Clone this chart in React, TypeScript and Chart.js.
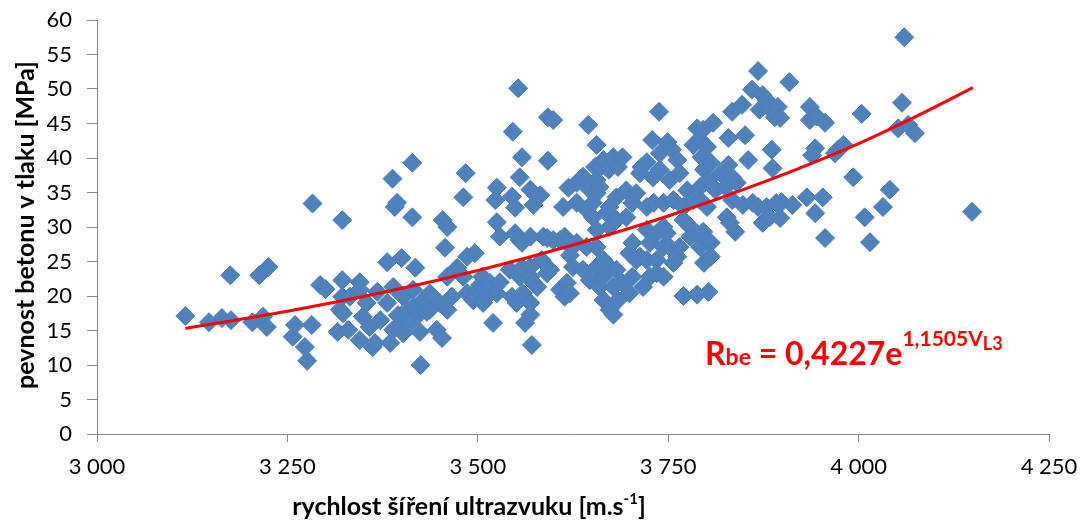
import { useEffect, useRef } from 'react';
import { Chart, registerables } from 'chart.js';

Chart.register(...registerables);

// measured samples: [ultrasound speed m/s, compressive strength MPa]
const samples: number[][] = [
  [3116, 17.1], [3147, 16.2], [3164, 16.8], [3176, 16.5], [3175, 23.0], [3213, 23.0], [3225, 24.2],
  [3204, 16.2], [3218, 17.0], [3223, 15.5], [3257, 14.1], [3260, 15.8], [3273, 12.6], [3276, 10.6],
  [3282, 15.8], [3283, 33.4], [3293, 21.6], [3300, 21.0], [3316, 14.8], [3319, 18.0], [3322, 31.0],
  [3322, 22.3], [3322, 19.9], [3323, 17.5], [3330, 15.1], [3332, 19.9], [3345, 22.0], [3345, 20.9],
  [3345, 13.6], [3349, 17.0], [3354, 19.0], [3358, 15.5], [3362, 12.6], [3365, 13.2], [3368, 20.6],
  [3372, 16.5], [3381, 19.0], [3381, 24.9], [3385, 13.2], [3388, 37.0], [3389, 21.3], [3389, 15.1],
  [3391, 32.9], [3394, 33.5], [3395, 17.2], [3398, 15.5], [3400, 25.5], [3402, 19.9], [3402, 14.6],
  [3407, 18.0], [3411, 16.2], [3414, 39.3], [3414, 31.4], [3415, 20.9], [3415, 18.4], [3418, 24.1],
  [3424, 17.5], [3424, 14.8], [3425, 10.0], [3428, 19.4], [3433, 17.7], [3437, 20.4], [3437, 18.0],
  [3446, 15.1], [3450, 19.0], [3453, 13.9], [3454, 31.0], [3460, 30.0], [3457, 27.0], [3460, 22.8],
  [3460, 18.0], [3466, 19.9], [3473, 24.1], [3481, 22.8], [3481, 34.3], [3484, 37.8], [3486, 25.7],
  [3486, 20.4], [3494, 19.4], [3496, 26.2], [3499, 20.9], [3503, 21.6], [3506, 22.8], [3507, 19.0],
  [3512, 19.9], [3516, 21.9], [3520, 16.1], [3523, 33.9], [3525, 35.7], [3525, 30.7], [3525, 20.4],
  [3529, 28.6], [3529, 22.0], [3542, 23.8], [3545, 34.4], [3545, 19.9], [3546, 43.8], [3549, 32.8],
  [3549, 29.1], [3551, 19.0], [3553, 50.1], [3555, 37.2], [3555, 22.8], [3555, 28.1], [3558, 40.1],
  [3558, 27.7], [3558, 24.1], [3559, 20.4], [3562, 16.1], [3569, 35.4], [3569, 28.6], [3569, 24.2],
  [3569, 22.8], [3569, 19.0], [3569, 17.3], [3571, 12.9], [3573, 33.2], [3573, 21.9], [3578, 21.3],
  [3582, 34.6], [3584, 25.2], [3586, 28.6], [3591, 28.4], [3591, 23.3], [3592, 45.9], [3592, 39.6],
  [3595, 23.8], [3599, 45.5], [3599, 28.1], [3608, 28.1], [3608, 20.9], [3612, 32.9], [3614, 28.6],
  [3614, 19.9], [3617, 27.7], [3617, 21.9], [3619, 35.7], [3621, 25.9], [3621, 20.4], [3625, 24.2],
  [3630, 36.4], [3630, 33.5], [3630, 27.7], [3638, 37.3], [3638, 23.8], [3643, 32.5], [3643, 27.1],
  [3645, 44.8], [3647, 35.4], [3647, 22.3], [3651, 31.4], [3651, 33.5], [3654, 38.7], [3656, 41.9],
  [3656, 36.8], [3656, 34.9], [3656, 29.6], [3656, 27.1], [3656, 24.2], [3660, 35.8], [3660, 21.3],
  [3661, 38.7], [3665, 39.7], [3665, 25.2], [3665, 22.8], [3665, 19.4], [3669, 32.0], [3672, 38.3],
  [3673, 32.9], [3673, 30.0], [3673, 24.2], [3673, 18.0], [3678, 40.1], [3678, 21.3], [3678, 17.3],
  [3682, 34.3], [3682, 31.0], [3682, 23.8], [3684, 38.7], [3684, 19.4], [3690, 40.1], [3690, 21.9],
  [3695, 35.3], [3695, 31.4], [3699, 26.2], [3699, 20.4], [3703, 33.5], [3703, 27.7], [3703, 22.8],
  [3708, 34.9], [3708, 25.2], [3713, 37.8], [3713, 25.7], [3715, 38.7], [3717, 21.3], [3722, 39.4],
  [3722, 32.9], [3722, 29.6], [3722, 25.2], [3726, 27.7], [3726, 22.8], [3729, 42.6], [3730, 37.2],
  [3731, 33.5], [3735, 29.1], [3735, 25.2], [3735, 23.3], [3738, 46.7], [3739, 40.7], [3739, 38.3],
  [3744, 33.5], [3744, 30.0], [3744, 27.1], [3744, 22.8], [3748, 29.1], [3749, 42.3], [3752, 36.8],
  [3752, 27.1], [3755, 41.2], [3757, 33.9], [3757, 24.8], [3762, 39.7], [3762, 25.7], [3765, 37.8],
  [3765, 27.1], [3770, 32.9], [3770, 31.0], [3770, 20.0], [3775, 35.3], [3779, 30.0], [3779, 28.6],
  [3783, 41.9], [3783, 33.9], [3788, 44.3], [3788, 20.2], [3792, 42.6], [3792, 35.8], [3792, 33.9],
  [3792, 28.6], [3792, 27.1], [3794, 40.1], [3796, 44.1], [3796, 29.3], [3797, 38.3], [3797, 24.8],
  [3801, 41.6], [3801, 32.9], [3801, 28.1], [3803, 36.8], [3803, 20.6], [3806, 39.3], [3806, 27.7],
  [3806, 25.7], [3809, 45.1], [3809, 35.8], [3812, 35.4], [3819, 37.8], [3825, 35.8], [3827, 31.4],
  [3829, 42.9], [3829, 39.0], [3831, 30.6], [3834, 46.7], [3834, 37.2], [3834, 33.9], [3838, 29.3],
  [3840, 36.4], [3847, 47.7], [3848, 33.2], [3851, 43.3], [3855, 39.7], [3860, 49.9], [3861, 33.5],
  [3868, 52.6], [3868, 32.9], [3870, 47.0], [3874, 49.1], [3874, 30.6], [3879, 48.4], [3879, 32.9],
  [3883, 47.2], [3883, 31.4], [3886, 41.2], [3887, 38.5], [3890, 45.9], [3892, 33.5], [3894, 47.4],
  [3897, 45.8], [3897, 31.3], [3899, 33.6], [3909, 51.0], [3913, 33.2], [3932, 34.3], [3936, 47.4],
  [3936, 45.5], [3939, 40.4], [3943, 41.4], [3943, 32.0], [3945, 46.0], [3953, 34.3], [3956, 45.1],
  [3956, 28.4], [3969, 40.7], [3973, 41.2], [3980, 41.9], [3993, 37.2], [4004, 46.4], [4008, 31.4],
  [4015, 27.8], [4032, 32.9], [4041, 35.4], [4052, 44.3], [4057, 48.0], [4060, 57.5], [4065, 44.8],
  [4074, 43.6], [4149, 32.2],
];

// exponential trendline
const trendSpeed = [3116, 3250, 3375, 3500, 3625, 3750, 3875, 4000, 4075, 4150];
const trendStrength = [15.3, 17.8, 20.5, 23.7, 27.4, 31.6, 36.5, 42.1, 46.0, 50.2];

const xMin = 3000;
const xMax = 4250;
const xStep = 250;
const yMin = 0;
const yMax = 60;
const yStep = 5;

const yTitleText = 'pevnost betonu v tlaku [MPa]';
const xTitleText = 'rychlost šíření ultrazvuku [m.s';
const xTitleSup = '-1';
const xTitleEnd = ']';

const eqMain = 'R';
const eqSub = 'be';
const eqMid = ' = 0,4227e';
const eqSup = '1,1505V';
const eqSupSub = 'L3';

const FONT = 'Lato, "Open Sans", sans-serif';

const textPlugin = {
  id: 'customText',
  afterDraw(chart: any) {
    const ctx = chart.ctx as CanvasRenderingContext2D;
    ctx.save();
    ctx.fillStyle = '#000000';
    // y title
    ctx.save();
    ctx.translate(34, 225);
    ctx.rotate(-Math.PI / 2);
    ctx.font = `bold 25px ${FONT}`;
    ctx.textAlign = 'center';
    ctx.textBaseline = 'alphabetic';
    ctx.fillText(yTitleText, 0, 0);
    ctx.restore();

    // x title with superscript
    ctx.textBaseline = 'alphabetic';
    ctx.textAlign = 'left';
    const mainFont = `bold 25px ${FONT}`;
    const supFont = `bold 15px ${FONT}`;
    ctx.font = mainFont;
    const w1 = ctx.measureText(xTitleText).width;
    const w3 = ctx.measureText(xTitleEnd).width;
    ctx.font = supFont;
    const w2 = ctx.measureText(xTitleSup).width;
    const total = w1 + w2 + w3;
    let x = 469 - total / 2;
    const by = 515;
    ctx.font = mainFont;
    ctx.fillText(xTitleText, x, by);
    x += w1;
    ctx.font = supFont;
    ctx.fillText(xTitleSup, x, by - 11);
    x += w2;
    ctx.font = mainFont;
    ctx.fillText(xTitleEnd, x, by);

    // equation
    ctx.fillStyle = '#FF0000';
    let ex = 705;
    const eb = 365;
    ctx.font = `bold 32px ${FONT}`;
    ctx.fillText(eqMain, ex, eb);
    ex += ctx.measureText(eqMain).width;
    ctx.font = `bold 23px ${FONT}`;
    ctx.fillText(eqSub, ex, eb);
    ex += ctx.measureText(eqSub).width;
    ctx.font = `bold 32px ${FONT}`;
    ctx.fillText(eqMid, ex, eb);
    ex += ctx.measureText(eqMid).width;
    ctx.font = `bold 21px ${FONT}`;
    ctx.fillText(eqSup, ex, eb - 19);
    ex += ctx.measureText(eqSup).width;
    ctx.font = `bold 18px ${FONT}`;
    ctx.fillText(eqSupSub, ex, eb - 15);
    ctx.restore();
  },
};

export default function App() {
  const canvasRef = useRef<HTMLCanvasElement | null>(null);

  useEffect(() => {
    document.body.style.margin = '0';
    document.body.style.overflow = 'hidden';
    const canvas = canvasRef.current;
    if (!canvas) return;

    const scatterData = samples.map((p) => ({ x: p[0], y: p[1] }));
    const trendData = trendSpeed.map((v, i) => ({ x: v, y: trendStrength[i] }));

    const chart = new Chart(canvas, {
      type: 'scatter',
      data: {
        datasets: [
          {
            label: 'trend',
            data: trendData,
            showLine: true,
            borderColor: '#FF0000',
            backgroundColor: '#FF0000',
            borderWidth: 3,
            pointRadius: 0,
            cubicInterpolationMode: 'monotone',
            fill: false,
          } as any,
          {
            label: 'samples',
            data: scatterData,
            pointStyle: 'rectRot',
            pointRadius: 9.5,
            backgroundColor: '#4F81BD',
            borderColor: '#4A7EBB',
            borderWidth: 1,
            showLine: false,
          },
        ],
      },
      options: {
        responsive: false,
        animation: false,
        devicePixelRatio: 1,
        layout: { padding: { left: 0, right: 33, top: 20, bottom: 0 } },
        plugins: {
          legend: { display: false },
          tooltip: { enabled: false },
          title: { display: false },
        },
        scales: {
          x: {
            type: 'linear',
            min: xMin,
            max: xMax,
            afterFit: (s: any) => {
              s.height = 90;
              s.paddingLeft = 0;
              s.paddingRight = 0;
            },
            ticks: {
              stepSize: xStep,
              color: '#000000',
              font: { family: FONT, size: 22 },
              padding: 12,
              maxRotation: 0,
              callback: (v: any) => {
                const n = Number(v);
                const th = Math.floor(n / 1000);
                const rest = String(n % 1000).padStart(3, '0');
                return `${th} ${rest}`;
              },
            },
            grid: {
              drawOnChartArea: false,
              drawTicks: true,
              tickLength: 8,
              color: '#868686',
            },
            border: { color: '#868686', width: 1 },
          },
          y: {
            type: 'linear',
            min: yMin,
            max: yMax,
            afterFit: (s: any) => {
              s.width = 97;
              s.paddingTop = 0;
              s.paddingBottom = 0;
            },
            ticks: {
              stepSize: yStep,
              color: '#000000',
              font: { family: FONT, size: 22 },
              padding: 15,
            },
            grid: {
              drawOnChartArea: false,
              drawTicks: true,
              tickLength: 10,
              color: '#868686',
            },
            border: { color: '#868686', width: 1 },
          },
        },
      },
      plugins: [textPlugin],
    });

    return () => {
      chart.destroy();
    };
  }, []);

  return (
    <div style={{ width: 1082, height: 524 }}>
      <canvas ref={canvasRef} width={1082} height={524} />
    </div>
  );
}
